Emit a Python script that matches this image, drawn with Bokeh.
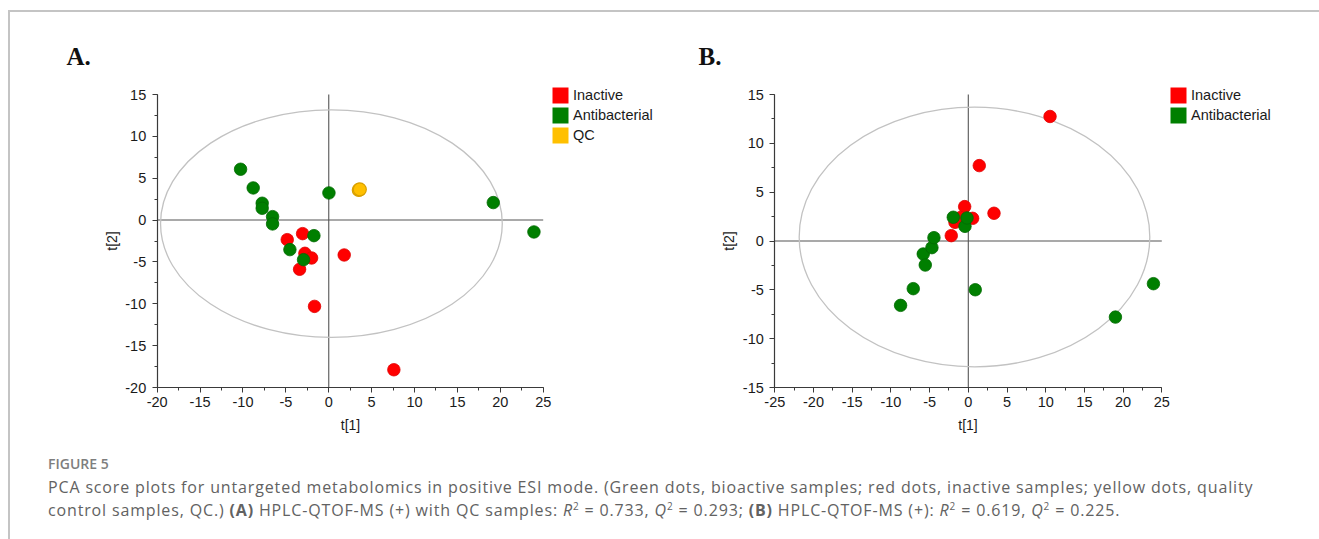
from bokeh.plotting import figure
from bokeh.models import (Range1d, Legend, LegendItem, Label, Div,
                          SingleIntervalTicker, PrintfTickFormatter)
from bokeh.layouts import column, row
from bokeh.embed import file_html
from bokeh.resources import INLINE

# ---------------- data ----------------
# Panel A: HPLC-QTOF-MS (+) with QC samples
a_inactive_t1 = [-3.05, -4.84, -2.78, -2.00, -3.40, 1.80, -1.66, 7.59]
a_inactive_t2 = [-1.62, -2.34, -3.97, -4.53, -5.88, -4.17, -10.31, -17.88]
a_antibac_t1 = [-10.28, -8.81, -7.76, -7.76, -6.55, -6.55, 0.02, -1.73, -4.53, -2.94, 19.18, 23.92]
a_antibac_t2 = [6.07, 3.84, 2.01, 1.41, 0.41, -0.46, 3.24, -1.86, -3.53, -4.73, 2.09, -1.42]
a_qc_t1 = [3.50, 3.62]
a_qc_t2 = [3.60, 3.66]
a_ellipse = dict(cx=0.31, cy=-0.42, w=39.84, h=27.2)

# Panel B: HPLC-QTOF-MS (+)
b_inactive_t1 = [10.56, 1.42, -0.47, 3.32, 0.56, -1.72, -1.00, -2.20]
b_inactive_t2 = [12.75, 7.72, 3.52, 2.84, 2.32, 1.91, 2.40, 0.55]
b_antibac_t1 = [-8.75, -7.11, -5.82, -5.56, -4.70, -4.44, -1.94, -0.43, -0.17, 0.90, 19.01, 23.92]
b_antibac_t2 = [-6.59, -4.88, -1.33, -2.46, -0.68, 0.34, 2.43, 1.50, 2.36, -4.99, -7.79, -4.37]
b_ellipse = dict(cx=0.80, cy=0.41, w=45.3, h=26.58)

a_xlim = (-20, 25)
a_ylim = (-20, 15)
b_xlim = (-25, 25)
b_ylim = (-15, 15)

legend_labels = ["Inactive", "Antibacterial", "QC"]

RED = "#ff0000"
GREEN = "#007f00"
QC = "#ffc000"
TXT = "#1a1a1a"
AXC = "#3a3a3a"
NAN = float("nan")

CANVAS_H = 428
FRAME_TOP = 82
FRAME_H = 293


def legend_swatch(p, color):
    # a swatch renderer whose single row is not drawn (NaN) - only used by the legend
    return p.quad(left=[NAN], right=[NAN], top=[NAN], bottom=[NAN], fill_color=color, line_color=None)


def make_panel(xlim, ylim, width, frame_left, frame_w, inactive, antibac, qc, ell,
               letter, letter_xy, legend_xy):
    # frame covers the whole canvas; the data box sits at the reference pixel position
    ppx = frame_w / (xlim[1] - xlim[0])
    ppy = FRAME_H / (ylim[1] - ylim[0])
    x0 = xlim[0] - frame_left / ppx
    x1 = xlim[1] + (width - frame_left - frame_w) / ppx
    y1 = ylim[1] + FRAME_TOP / ppy
    y0 = ylim[0] - (CANVAS_H - FRAME_TOP - FRAME_H) / ppy

    p = figure(width=width, height=CANVAS_H, x_range=Range1d(x0, x1), y_range=Range1d(y0, y1),
               output_backend="svg", toolbar_location=None, min_border=0)
    p.title.visible = False
    p.grid.visible = False
    p.outline_line_color = None
    p.background_fill_color = "white"
    p.border_fill_color = "white"

    p.xaxis.fixed_location = ylim[0]
    p.xaxis.bounds = xlim
    p.yaxis.fixed_location = xlim[0]
    p.yaxis.bounds = ylim

    for ax in (p.xaxis[0], p.yaxis[0]):
        ax.ticker = SingleIntervalTicker(interval=5, num_minor_ticks=2)
        ax.formatter = PrintfTickFormatter(format="%d")
        ax.axis_line_color = AXC
        ax.axis_line_width = 1.2
        ax.major_tick_line_color = AXC
        ax.minor_tick_line_color = AXC
        ax.major_tick_in = 0
        ax.major_tick_out = 5
        ax.minor_tick_in = 0
        ax.minor_tick_out = 3
        ax.major_label_text_font = "Liberation Sans"
        ax.major_label_text_font_size = "14.5px"
        ax.major_label_text_color = TXT
        ax.axis_label_text_font = "Liberation Sans"
        ax.axis_label_text_font_size = "14px"
        ax.axis_label_text_font_style = "normal"
        ax.axis_label_text_color = TXT
    p.xaxis.axis_label = "t[1]"
    p.yaxis.axis_label = "t[2]"
    p.xaxis.major_label_standoff = 4
    p.yaxis.major_label_standoff = 6
    p.xaxis.axis_label_standoff = 7
    p.yaxis.axis_label_standoff = 3

    # cross-hair through the origin
    p.segment(x0=[0], y0=[ylim[0]], x1=[0], y1=[ylim[1]], line_color="#555555", line_width=1.1)
    p.segment(x0=[xlim[0]], y0=[0], x1=[xlim[1]], y1=[0], line_color="#555555", line_width=1.1)

    p.ellipse(x=[ell["cx"]], y=[ell["cy"]], width=[ell["w"]], height=[ell["h"]],
              fill_color=None, line_color="#c2c2c2", line_width=1.3)

    p.scatter(inactive[0], inactive[1], size=12.5, fill_color=RED, line_color="#e00000", line_width=0.8)
    p.scatter(antibac[0], antibac[1], size=12.5, fill_color=GREEN, line_color="#006a00", line_width=0.8)
    items = [LegendItem(label=legend_labels[0], renderers=[legend_swatch(p, RED)]),
             LegendItem(label=legend_labels[1], renderers=[legend_swatch(p, GREEN)])]
    if qc is not None:
        p.scatter(qc[0], qc[1], size=13, fill_color=QC, line_color="#d9a000", line_width=1.2)
        items.append(LegendItem(label=legend_labels[2], renderers=[legend_swatch(p, QC)]))

    leg = Legend(items=items, location=legend_xy, padding=0, margin=0, spacing=0,
                 glyph_width=20, glyph_height=20, label_height=20, label_standoff=3,
                 label_text_font="Liberation Sans", label_text_font_size="14.5px",
                 label_text_color=TXT, border_line_color=None, background_fill_alpha=0)
    p.add_layout(leg)

    p.add_layout(Label(x=letter_xy[0], y=letter_xy[1], x_units="screen", y_units="screen",
                       text=letter, text_font="Liberation Serif", text_font_style="bold",
                       text_font_size="25px", text_color="#111111", text_baseline="alphabetic"))
    return p


pA = make_panel(a_xlim, a_ylim, 650, 146.7, 386,
                (a_inactive_t1, a_inactive_t2), (a_antibac_t1, a_antibac_t2),
                (a_qc_t1, a_qc_t2), a_ellipse, "A.", (56, 384.5), (540, 295))
pB = make_panel(b_xlim, b_ylim, 659, 114.3, 387,
                (b_inactive_t1, b_inactive_t2), (b_antibac_t1, b_antibac_t2),
                None, b_ellipse, "B.", (38, 384.5), (508, 315))

sup = '<sup style="font-size:10px; line-height:0;">2</sup>'
caption_html = (
    '<div style="padding-left:33px; font-family:\'Open Sans\'; color:#626262; white-space:nowrap;">'
    '<div style="font-size:14px; font-weight:600; color:#7e7e7e; margin-top:10px; line-height:18px;">FIGURE 5</div>'
    '<div style="font-size:16px; line-height:23px; margin-top:3px; letter-spacing:0.85px;">'
    'PCA score plots for untargeted metabolomics in positive ESI mode. (Green dots, bioactive samples; '
    'red dots, inactive samples; yellow dots, quality<br>'
    'control samples, QC.) <b>(A)</b> HPLC-QTOF-MS (+) with QC samples: <i>R</i>' + sup + ' = 0.733, '
    '<i>Q</i>' + sup + ' = 0.293; <b>(B)</b> HPLC-QTOF-MS (+): <i>R</i>' + sup + ' = 0.619, '
    '<i>Q</i>' + sup + ' = 0.225.'
    '</div></div>'
)
cap = Div(text=caption_html, width=1309, height=97)

root = column(row(pA, pB), cap, margin=(10, 0, 0, 8),
              styles={"border-top": "2px solid #c4c4c4", "border-left": "2px solid #c4c4c4"})

open("out.html", "w").write(file_html(root, INLINE))
